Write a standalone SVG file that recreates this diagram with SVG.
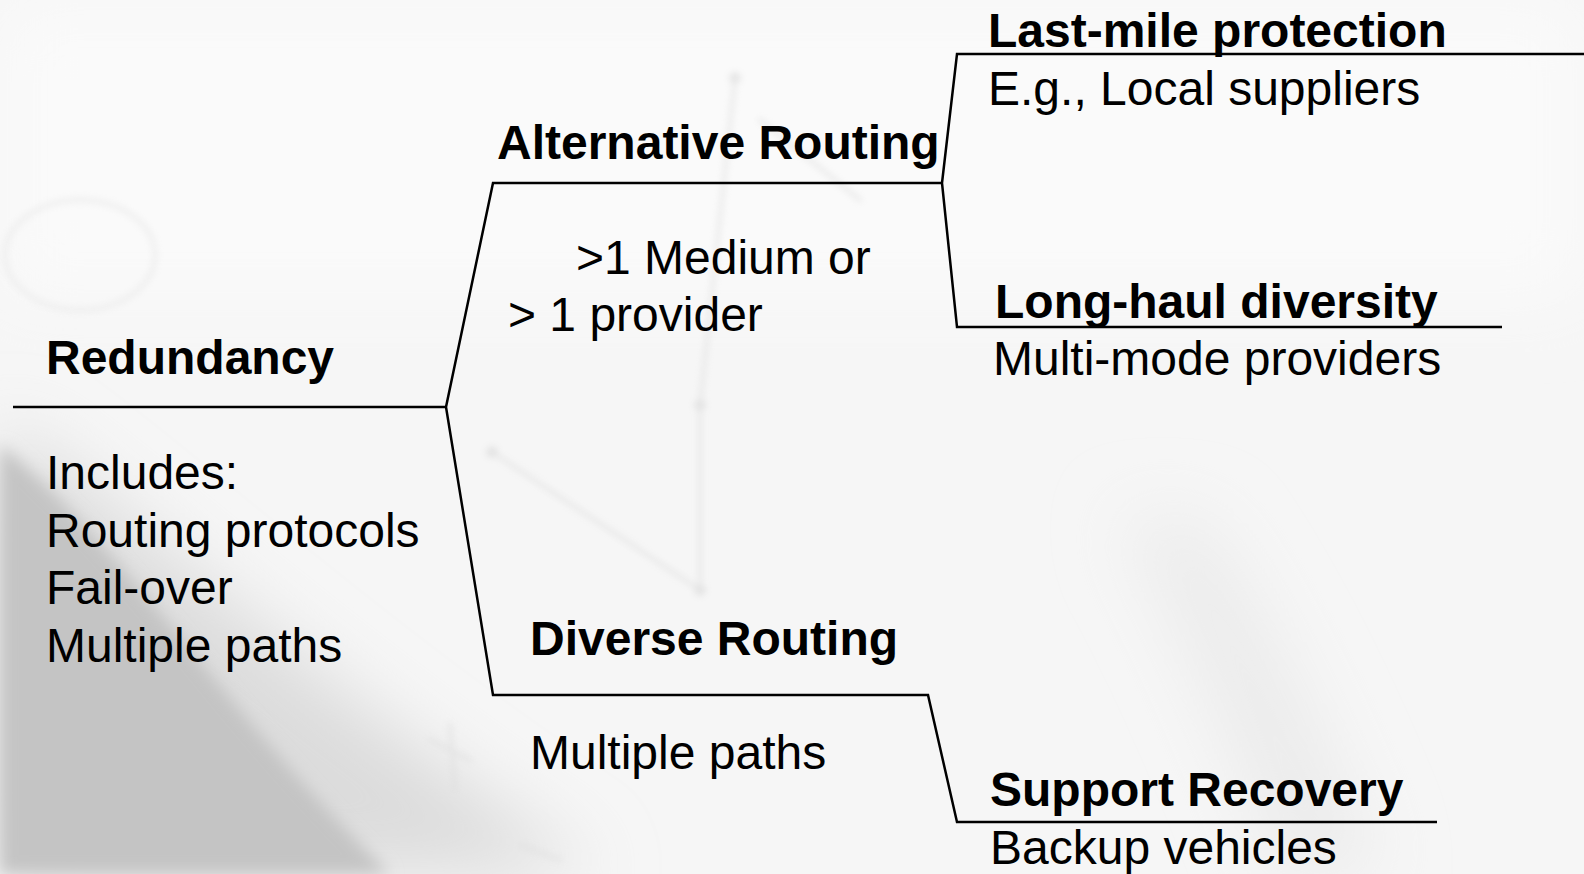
<svg xmlns="http://www.w3.org/2000/svg" width="1584" height="874" viewBox="0 0 1584 874">
  <style>
    .t { font-family: "Liberation Sans", Arial, sans-serif; font-size: 48px; fill: #000; }
    .b { font-weight: bold; }
    .wire { fill: none; stroke: #000; stroke-width: 2.5; stroke-linejoin: miter; }
    .faint { fill: none; stroke: #dcdcdc; stroke-width: 5; stroke-linecap: round; }
  </style>
  <defs>
    <filter id="soft" x="-20%" y="-20%" width="140%" height="140%">
      <feGaussianBlur stdDeviation="8"/>
    </filter>
    <filter id="softer" x="-30%" y="-30%" width="160%" height="160%">
      <feGaussianBlur stdDeviation="35"/>
    </filter>
    <filter id="haze" x="-10%" y="-10%" width="120%" height="120%">
      <feGaussianBlur stdDeviation="3"/>
    </filter>
  </defs>

  <!-- backdrop -->
  <g id="backdrop">
    <rect width="1584" height="874" fill="#f6f6f6"/>
    <rect x="0" y="0" width="1584" height="300" fill="#fafafa" filter="url(#softer)"/>
    <!-- shaded sweep, lower left -->
    <path d="M0,420 C120,500 330,700 600,874 L0,874 Z" fill="#dcdcdc" filter="url(#softer)"/>
    <path d="M0,445 C60,490 150,600 240,710 C290,770 340,825 390,874 L0,874 Z" fill="#c4c4c4" filter="url(#soft)"/>
    <!-- shaded band, lower right -->
    <path d="M1120,520 C1180,620 1240,760 1280,874 L1380,874 C1330,740 1260,600 1200,520 Z" fill="#ebebeb" filter="url(#softer)"/>
    <!-- faint network sketch -->
    <g filter="url(#haze)" opacity="0.45">
      <path class="faint" d="M735,78 L700,405 L700,590"/>
      <path class="faint" d="M492,452 L700,590"/>
      <path class="faint" d="M760,120 L860,200"/>
      <path class="faint" d="M430,740 L470,760 M450,725 L455,790"/>
      <path class="faint" d="M520,845 L560,860"/>
      <ellipse cx="80" cy="255" rx="75" ry="55" fill="none" stroke="#e6e6e6" stroke-width="6"/>
      <circle cx="735" cy="78" r="6" fill="#cfcfcf"/>
      <circle cx="700" cy="405" r="6" fill="#cfcfcf"/>
      <circle cx="492" cy="452" r="6" fill="#cfcfcf"/>
      <circle cx="700" cy="590" r="6" fill="#cfcfcf"/>
    </g>
  </g>

  <!-- bracket connectors -->
  <g id="connectors">
    <path class="wire" d="M13,407 H446"/>
    <path class="wire" d="M942,183 H493 L446,407 L493,695 H928 L957,822 H1437"/>
    <path class="wire" d="M1584,54 H957 L942,183 L957,327 H1502"/>
  </g>

  <g id="redundancy">
    <text class="t b" x="46" y="374">Redundancy</text>
    <text class="t" x="46" y="489">Includes:</text>
    <text class="t" x="46" y="547">Routing protocols</text>
    <text class="t" x="46" y="604">Fail-over</text>
    <text class="t" x="46" y="662">Multiple paths</text>
  </g>

  <g id="alternative-routing">
    <text class="t b" x="497" y="159">Alternative Routing</text>
    <text class="t" x="576" y="274">&gt;1 Medium or</text>
    <text class="t" x="508" y="331">&gt; 1 provider</text>
  </g>

  <g id="diverse-routing">
    <text class="t b" x="530" y="655">Diverse Routing</text>
    <text class="t" x="530" y="769">Multiple paths</text>
  </g>

  <g id="last-mile">
    <text class="t b" x="988" y="47">Last-mile protection</text>
    <text class="t" x="988" y="105">E.g., Local suppliers</text>
  </g>

  <g id="long-haul">
    <text class="t b" x="995" y="318">Long-haul diversity</text>
    <text class="t" x="993" y="375">Multi-mode providers</text>
  </g>

  <g id="support-recovery">
    <text class="t b" x="990" y="806">Support Recovery</text>
    <text class="t" x="990" y="864">Backup vehicles</text>
  </g>
</svg>
